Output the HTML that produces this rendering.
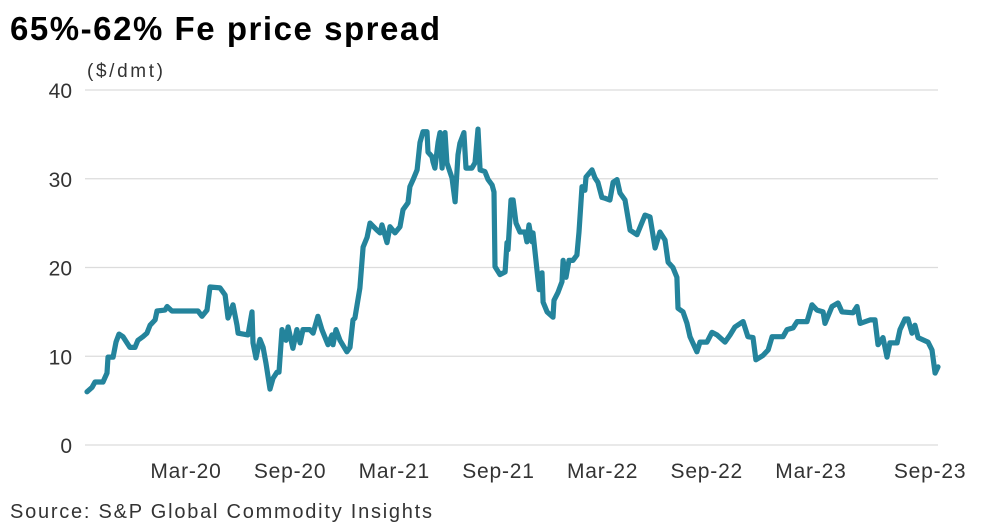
<!DOCTYPE html>
<html><head><meta charset="utf-8"><style>
html,body{margin:0;padding:0;background:#fff;}
svg{display:block;font-family:"Liberation Sans",sans-serif;}
</style></head><body>
<svg id="chart" width="983" height="528" viewBox="0 0 983 528">
<text x="10" y="40" font-size="33" font-weight="bold" fill="#000" textLength="430" lengthAdjust="spacing">65%-62% Fe price spread</text>
<text x="87" y="77" font-size="19" fill="#333" textLength="76">($/dmt)</text>
<g id="grid"></g><g id="yticks"></g><g id="xticks"></g><g id="series"></g>
<text x="10" y="518" font-size="20" fill="#333" textLength="422">Source: S&amp;P Global Commodity Insights</text>
</svg>
<script>
// months since Jan 2019 (0 = Jan-19)
const months=[8.30,8.59,8.76,9.22,9.45,9.51,9.80,9.97,10.14,10.37,10.77,11.06,11.23,11.52,11.75,11.93,12.22,12.33,12.79,12.91,13.19,14.69,14.92,15.21,15.38,15.96,16.25,16.42,16.71,16.94,17.0,17.57,17.80,17.86,18.03,18.26,18.44,18.61,18.84,19.01,19.24,19.36,19.53,19.76,19.88,20.16,20.39,20.57,20.74,21.14,21.32,21.60,21.83,22.18,22.41,22.47,22.64,22.87,23.27,23.45,23.62,23.73,24.02,24.20,24.43,24.60,25.0,25.18,25.29,25.58,25.75,26.04,26.33,26.50,26.79,26.90,27.08,27.31,27.48,27.65,27.88,27.94,28.17,28.23,28.34,28.52,28.63,28.75,28.92,29.03,29.32,29.50,29.67,29.78,30.01,30.13,30.47,30.65,30.82,30.94,31.22,31.40,31.63,31.74,31.80,32.09,32.38,32.49,32.55,32.72,32.84,33.01,33.24,33.53,33.64,33.76,33.93,33.99,34.22,34.34,34.51,34.57,34.80,35.14,35.20,35.43,35.66,35.72,35.89,36.06,36.29,36.52,36.64,36.81,36.98,37.04,37.39,37.56,37.73,37.96,38.14,38.42,38.60,38.83,39.0,39.29,39.58,39.98,40.44,40.73,41.02,41.30,41.59,41.77,42.05,42.28,42.34,42.63,42.86,43.03,43.43,43.61,44.01,44.30,44.59,45.05,45.34,45.62,46.09,46.37,46.66,46.83,47.24,47.53,47.76,48.39,48.62,48.97,49.20,49.77,50.06,50.35,50.70,50.81,51.21,51.56,51.79,52.42,52.65,52.83,53.40,53.69,53.86,54.15,54.38,54.55,54.96,55.13,55.42,55.59,55.82,55.99,56.17,56.74,56.97,57.15,57.32];
const spread=[6,6.5,7.1,7.1,8.1,9.9,9.9,11.6,12.5,12.2,11,11,11.8,12.2,12.6,13.5,14.1,15.1,15.2,15.6,15.1,15.1,14.5,15.2,17.8,17.7,16.9,14.3,15.8,13.5,12.6,12.4,15,11.5,9.8,11.9,11,9.2,6.3,7.5,8.2,8.2,13,11.8,13.3,10.9,13,11.5,13,13,12.6,14.5,13,11.3,12.4,11.3,13,11.8,10.5,11,14.1,14.3,17.7,22.3,23.4,25,24.2,23.9,24.8,22.8,24.6,23.9,24.6,26.5,27.3,29.1,29.9,31,34.1,35.3,35.3,33,32.5,31.9,31.2,34.1,35.2,31.2,35.2,31.8,30.1,27.4,32.7,34,35.2,31.2,31.2,31.8,35.6,31,30.8,29.9,29.3,28.5,20.1,19.2,19.5,22.8,22,27.6,27.6,25,24,24,22.9,24.8,22.9,23.9,19.7,17.5,19.4,16.1,15,14.4,16.3,17.2,18.4,20.8,18.9,20.8,20.8,21.4,24,29.1,28.7,30.2,31,30.1,29.6,27.9,27.8,27.6,29.6,29.9,28.4,27.6,24.2,23.7,25.9,25.7,22.2,24,23.1,20.6,20,18.9,15.4,15,13.7,12.2,10.5,11.6,11.6,12.7,12.4,11.6,12.4,13.3,13.9,12.2,12.1,9.6,10.1,10.7,12.2,12.2,13,13.2,13.9,13.9,15.8,15.2,15,13.7,15.6,16,15,14.9,15.6,13.7,14.1,14.1,11.3,12.1,9.9,11.5,11.5,13,14.2,14.2,12.6,13.5,12.1,11.6,10.7,8.1,8.8];
const yTicks=[0,10,20,30,40];
const xTickMonths=[14,20,26,32,38,44,50,56];
const xTickLabels=["Mar-20","Sep-20","Mar-21","Sep-21","Mar-22","Sep-22","Mar-23","Sep-23"];

const NS="http://www.w3.org/2000/svg";
const X0=85,X1=938,Y0=445,Y1=90;
function xs(m){return (m-3.286)*17.36;}
function ys(v){return Y0-(v-0)/(40-0)*(Y0-Y1);}
function mk(tag,attrs,parent){const e=document.createElementNS(NS,tag);for(const k in attrs)e.setAttribute(k,attrs[k]);parent.appendChild(e);return e;}
const grid=document.getElementById('grid'),yt=document.getElementById('yticks'),xt=document.getElementById('xticks'),ser=document.getElementById('series');
yTicks.forEach(v=>{
  const l=mk('line',{x1:X0,x2:X1,y1:ys(v),y2:ys(v),stroke:'#dcdcdc','stroke-width':1.3},grid);
  
  
  const t=mk('text',{x:72,y:ys(v)+8,'text-anchor':'end','font-size':21,fill:'#333'},yt);
  t.textContent=v;
  
  
});
xTickMonths.forEach((m,i)=>{
  let x=xs(m); if(i===xTickMonths.length-1) x+=15;
  const t=mk('text',{x:x,y:478,'text-anchor':'middle','font-size':21,fill:'#333','letter-spacing':'0.8'},xt);
  t.textContent=xTickLabels[i];
  
  
});
let d='';
months.forEach((m,i)=>{d+=(i?'L':'M')+xs(m).toFixed(1)+' '+ys(spread[i]).toFixed(1);});
const p=mk('path',{d:d,fill:'none',stroke:'#24849c','stroke-width':5.2,'stroke-linejoin':'round','stroke-linecap':'round'},ser);


</script>
</body></html>
